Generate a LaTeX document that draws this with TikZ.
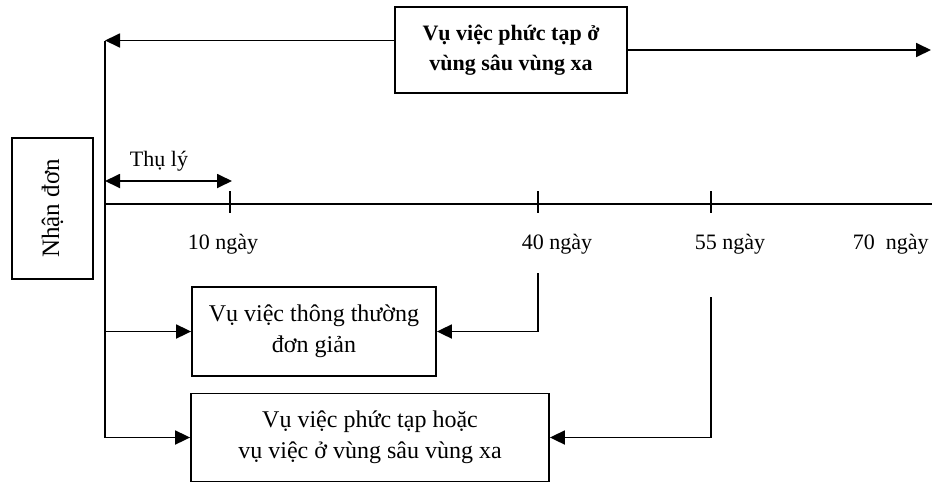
\documentclass[tikz,border=0pt]{standalone}
\usepackage{fontspec}
\setmainfont{Liberation Serif}
\usetikzlibrary{arrows.meta, positioning}

\begin{document}
\begin{tikzpicture}[x=0.5pt, y=-0.5pt, font=\fontsize{11}{15}\selectfont, line width=0.9pt]
\tikzstyle{box}=[rectangle, draw, align=center, inner sep=0pt, font=\fontsize{12}{15.5}\selectfont]
\tikzstyle{arrow}=[-{Triangle[length=7.5pt, width=7pt]}]
\tikzstyle{dayref}=[anchor=west, inner sep=0pt]
\useasboundingbox (0,0) rectangle (932,483);

\node[box, rotate=90, font=\fontsize{12.5}{15}\selectfont, minimum width=70.5pt, minimum height=40.5pt] (receive) at (52.5,208.5) {Nhận đơn};
\node[box, font=\fontsize{11}{15}\selectfont\bfseries, minimum width=116pt, minimum height=43pt] (remote) at (511,50) {Vụ việc phức tạp ở\\vùng sâu vùng xa};
\node[box, minimum width=122pt, minimum height=44.5pt] (simple) at (314,331.5) {Vụ việc thông thường\\đơn giản};
\node[box, minimum width=179pt, minimum height=44pt] (complex) at (370,437.5) {Vụ việc phức tạp hoặc\\vụ việc ở vùng sâu vùng xa};

\coordinate (vtop) at (105,40.5);
\coordinate (vbot) at (105,438);
\coordinate (rightend) at (931,50);
\coordinate (axis0) at (105,204);
\coordinate (axis1) at (932,204);
\coordinate (acc) at (232,181);
\coordinate (d40) at (538,273);
\coordinate (d55) at (711,297);

% time axis
\draw (vtop) -- (vbot);
\draw (axis0) -- (axis1);
\foreach \x/\name in {230/t10, 538/t40, 711/t55}
  \draw (\x,191) -- (\x,213) coordinate (\name);

\node[dayref] (day10) at (187,244) {10 ngày};
\node[dayref] (day40) at (521,244) {40 ngày};
\node[dayref] (day55) at (694,244) {55 ngày};
\node[dayref] (day70) at (852,244) {70\ \ ngày};

\node (accept) at (159,161) {Thụ lý};
\draw[{Triangle[length=7.5pt, width=7pt]}-{Triangle[length=7.5pt, width=7pt]}] (vtop |- acc) -- (acc);

\draw[arrow] (vtop -| remote.west) -- (vtop);
\draw[arrow] (remote.east) -- (rightend);
\draw[arrow] (vtop |- simple.west) -- (simple.west);
\draw[arrow] (vtop |- complex.west) -- (complex.west);
\draw[arrow] (d40) |- (simple.east);
\draw[arrow] (d55) |- (complex.east);

\end{tikzpicture}
\end{document}
